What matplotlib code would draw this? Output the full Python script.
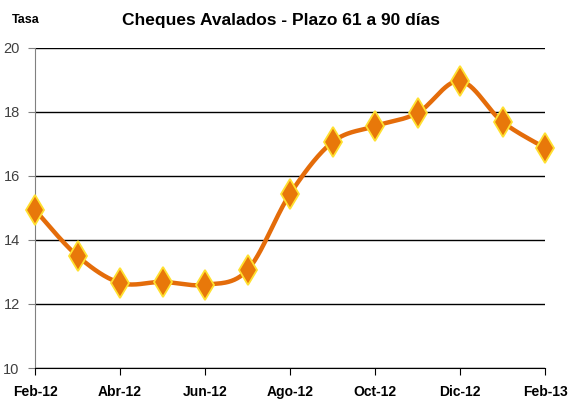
import numpy as np
import matplotlib
matplotlib.use("Agg")
import matplotlib.pyplot as plt

months = ["Feb-12", "Mar-12", "Abr-12", "May-12", "Jun-12", "Jul-12", "Ago-12",
          "Sep-12", "Oct-12", "Nov-12", "Dic-12", "Ene-13", "Feb-13"]
tasa = [14.94, 13.5, 12.66, 12.69, 12.6, 13.06, 15.44, 17.06, 17.56, 17.97, 18.97, 17.69, 16.88]
tick_labels = ["Feb-12", "Abr-12", "Jun-12", "Ago-12", "Oct-12", "Dic-12", "Feb-13"]
yticks = [10, 12, 14, 16, 18, 20]

font = "Liberation Sans"

def smooth(xs, ys, n=30):
    # Catmull-Rom style cubic Bezier between points (Excel-like smoothed line)
    xs = np.asarray(xs, float); ys = np.asarray(ys, float)
    px, py = [], []
    N = len(xs)
    for i in range(N - 1):
        x0, y0 = (xs[i-1], ys[i-1]) if i > 0 else (xs[i], ys[i])
        x1, y1 = xs[i], ys[i]
        x2, y2 = xs[i+1], ys[i+1]
        x3, y3 = (xs[i+2], ys[i+2]) if i + 2 < N else (xs[i+1], ys[i+1])
        c1x, c1y = x1 + (x2 - x0) / 6, y1 + (y2 - y0) / 6
        c2x, c2y = x2 - (x3 - x1) / 6, y2 - (y3 - y1) / 6
        t = np.linspace(0, 1, n)
        bx = (1-t)**3*x1 + 3*(1-t)**2*t*c1x + 3*(1-t)*t**2*c2x + t**3*x2
        by = (1-t)**3*y1 + 3*(1-t)**2*t*c1y + 3*(1-t)*t**2*c2y + t**3*y2
        px.extend(bx); py.extend(by)
    return np.array(px), np.array(py)

fig = plt.figure(figsize=(5.69, 4.03), dpi=100)
ax = fig.add_axes([35/569, 1 - 368/403, 510/569, 320/403])

x = np.arange(len(months))
sx, sy = smooth(x, tasa)
ax.plot(sx, sy, color="#E46C0A", lw=3.2, solid_capstyle="round", zorder=3, clip_on=False)
ax.plot(x, tasa, linestyle="none", marker="d", markersize=15, markerfacecolor="#E8780A",
        markeredgecolor="#FFE030", markeredgewidth=1.3, zorder=4, clip_on=False)

ax.set_xlim(0, 12)
ax.set_ylim(10, 20)
ax.set_yticks(yticks)
ax.set_xticks([months.index(m) for m in tick_labels])
ax.set_xticklabels(tick_labels, fontfamily=font, fontsize=10, fontweight="bold", color="black")
ax.set_yticklabels([str(v) for v in yticks], fontfamily=font, fontsize=10.5, color="#404040")
ax.grid(axis="y", color="black", lw=1)
ax.set_axisbelow(True)
for s in ["top", "right"]:
    ax.spines[s].set_visible(False)
ax.spines["left"].set_color("#808080")
ax.spines["bottom"].set_color("black")
ax.tick_params(axis="y", length=5, color="#808080", pad=6)
ax.tick_params(axis="x", length=5, color="black", pad=7)

fig.text(281/569, 1 - 21/403, "Cheques Avalados - Plazo 61 a 90 días", fontfamily=font,
         fontsize=12.5, fontweight="bold", va="center", ha="center")
fig.text(12/569, 1 - 20/403, "Tasa", fontfamily=font, fontsize=9, fontweight="bold",
         va="center", ha="left")

fig.savefig("out.png", dpi=100)
